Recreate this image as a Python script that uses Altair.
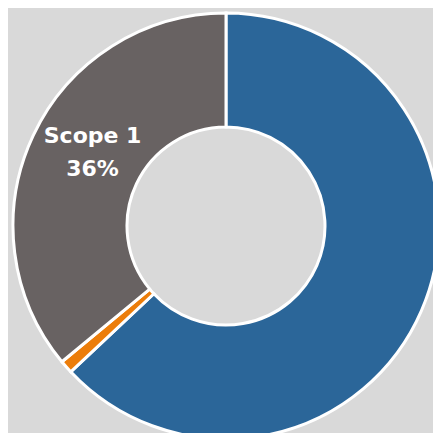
import altair as alt
import pandas as pd

categories = ["Scope 2", "Scope 3", "Scope 1"]
values = [63, 1, 36]
labels = ["", "", "Scope 1\n36%"]
order = [0, 1, 2]
colors = ["#2B6699", "#EC7D0A", "#686262"]

df = pd.DataFrame({"category": categories, "value": values, "label": labels, "order": order})

base = alt.Chart(df).encode(
    theta=alt.Theta("value:Q", stack=True),
    order=alt.Order("order:Q"),
)

arcs = base.mark_arc(innerRadius=99, outerRadius=213, stroke="white", strokeWidth=3).encode(
    color=alt.Color("category:N", scale=alt.Scale(domain=categories, range=colors), legend=None),
    x=alt.value(218),
    y=alt.value(218),
)

text = base.mark_text(
    font="DejaVu Sans", fontWeight="bold", fontSize=22, color="white",
    lineBreak="\n", lineHeight=33, align="center", baseline="middle", dx=5, dy=-25,
).encode(
    text="label:N",
    radius=alt.value(153),
    x=alt.value(218),
    y=alt.value(218),
)

chart = (arcs + text).properties(
    width=425, height=425, background="#D9D9D9", padding=0,
    autosize=alt.AutoSizeParams(type="none"),
).configure_view(stroke=None)

chart.save("out.html", embed_options={"renderer": "svg", "actions": False})
